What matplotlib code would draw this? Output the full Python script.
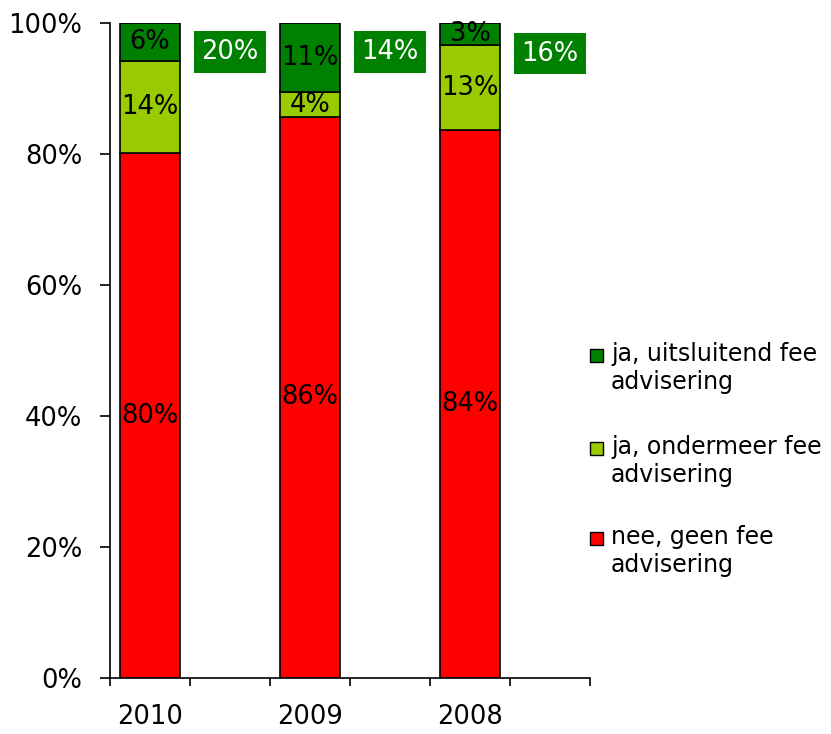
import matplotlib
matplotlib.use("Agg")
import matplotlib.pyplot as plt
from matplotlib.patches import Rectangle
import numpy as np

plt.rcParams['font.family'] = ['DejaVu Sans']

years = ["2010", "2009", "2008"]
nee = [80.1, 85.7, 83.6]          # nee, geen fee advisering
ondermeer = [14.1, 3.7, 13.0]     # ja, ondermeer fee advisering
uitsluitend = [5.8, 10.6, 3.4]    # ja, uitsluitend fee advisering
ja_totaal = [20, 14, 16]          # totals shown in green boxes
series_names = ["ja, uitsluitend fee\nadvisering",
                "ja, ondermeer fee\nadvisering",
                "nee, geen fee\nadvisering"]
colors = {"uit": "#008000", "onder": "#99CC00", "nee": "#FF0000"}
y_ticks = [0, 20, 40, 60, 80, 100]

fig = plt.figure(figsize=(8.31, 7.34), dpi=100)
ax = fig.add_axes([110/831, 1-678/734, 480/831, 655/734])

xpos = np.arange(len(years)) * 2
box_x = xpos + 1
w = 0.76
fs = 18.5

nee_a = np.array(nee); ond_a = np.array(ondermeer); uit_a = np.array(uitsluitend)
ax.bar(xpos, nee_a, w, color=colors["nee"], edgecolor="black", linewidth=1.2)
ax.bar(xpos, ond_a, w, bottom=nee_a, color=colors["onder"], edgecolor="black", linewidth=1.2)
ax.bar(xpos, uit_a, w, bottom=nee_a+ond_a, color=colors["uit"], edgecolor="black", linewidth=1.2)

for i, x in enumerate(xpos):
    ax.text(x, nee_a[i]/2, f"{round(nee_a[i])}%", ha="center", va="center", fontsize=fs)
    ax.text(x, nee_a[i] + ond_a[i]/2, f"{round(ond_a[i])}%", ha="center", va="center", fontsize=fs)
    ax.text(x, nee_a[i] + ond_a[i] + uit_a[i]/2, f"{round(uit_a[i])}%", ha="center", va="center", fontsize=fs)

box_y = [95.6, 95.6, 95.3]
for i, x in enumerate(box_x):
    ax.text(x, box_y[i], f"{ja_totaal[i]}%", ha="center", va="center", fontsize=fs,
            color="white",
            bbox=dict(boxstyle="square,pad=0.3", facecolor="#008000", edgecolor="none"))

ax.set_xlim(-0.5, 5.5)
ax.set_ylim(0, 100)
ax.set_yticks(y_ticks)
ax.set_yticklabels([f"{v}%" for v in y_ticks], fontsize=fs)
ax.set_xticks(np.arange(-0.5, 6.0, 1.0))
ax.set_xticklabels([])
ax.set_xticks(xpos, minor=True)
ax.set_xticklabels(years, minor=True, fontsize=fs)
ax.tick_params(axis="x", which="major", direction="out", length=6, width=1.2)
ax.tick_params(axis="x", which="minor", length=0, pad=19)
ax.tick_params(axis="y", direction="out", length=7, width=1.2, pad=13)
for s in ["top", "right"]:
    ax.spines[s].set_visible(False)
for s in ["left", "bottom"]:
    ax.spines[s].set_linewidth(1.2)

# legend (manual)
leg_colors = [colors["uit"], colors["onder"], colors["nee"]]
leg_y = [355, 448, 538]
for name, c, yy in zip(series_names, leg_colors, leg_y):
    fig.patches.append(Rectangle((590/831, 1-(yy+7)/734), 13/831, 13/734,
                                 facecolor=c, edgecolor="black", linewidth=1.0,
                                 transform=fig.transFigure))
    fig.text(611/831, 1-(yy-13)/734, name, ha="left", va="top", fontsize=17,
             linespacing=1.2)

fig.savefig("out.png", dpi=100)
